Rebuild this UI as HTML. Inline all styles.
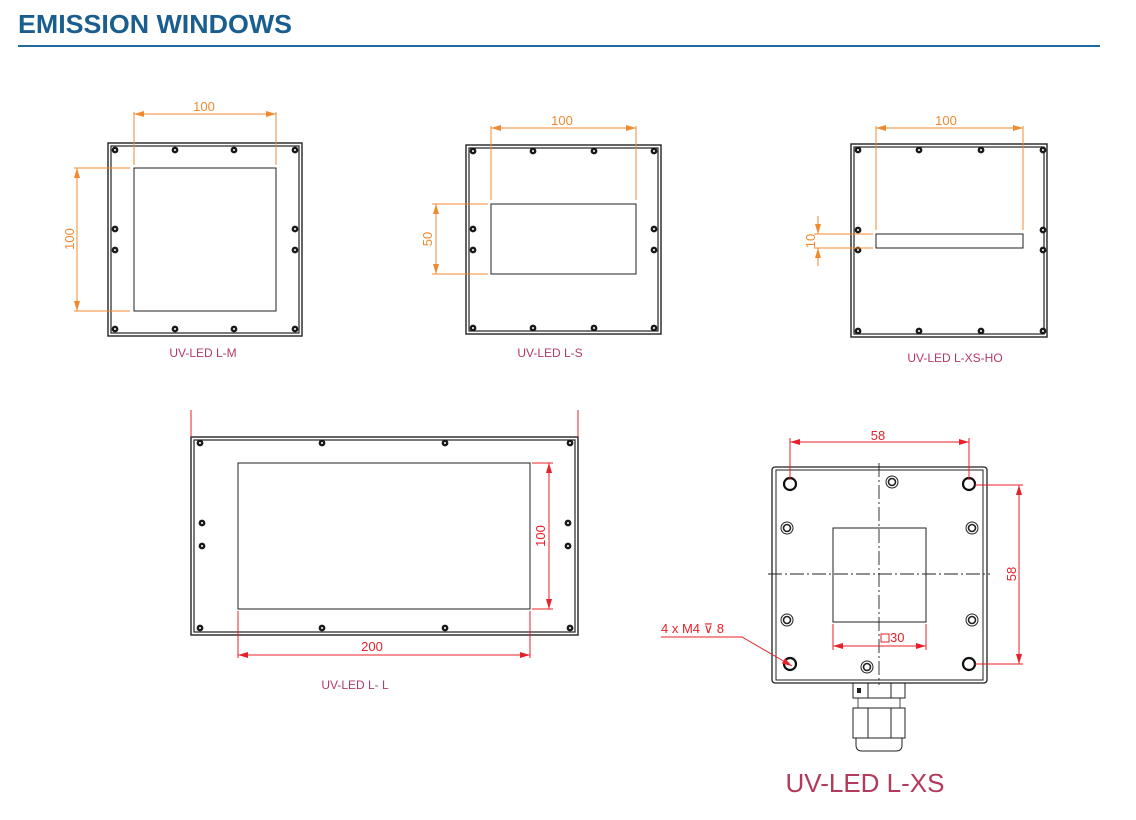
<!DOCTYPE html>
<html><head><meta charset="utf-8"><style>html,body{margin:0;padding:0;background:#fff}svg{display:block}</style></head><body>
<svg width="1136" height="820" viewBox="0 0 1136 820" xmlns="http://www.w3.org/2000/svg" font-family="Liberation Sans, sans-serif">
<defs>
<g id="s"><circle r="3.4" fill="#1a1a1a"/><circle r="1" fill="#fff"/></g>
<g id="h"><circle r="6" fill="none" stroke="#111" stroke-width="2.2"/></g>
<g id="t"><circle r="6" fill="none" stroke="#222" stroke-width="1"/><circle r="3.5" fill="none" stroke="#222" stroke-width="1.6"/></g>
<marker id="ao" viewBox="0 0 10 6" refX="10" refY="3" markerWidth="10" markerHeight="6" orient="auto-start-reverse" markerUnits="userSpaceOnUse"><path d="M0,0L10,3L0,6z" fill="#f08a30"/></marker>
<marker id="ar" viewBox="0 0 10 6" refX="10" refY="3" markerWidth="10" markerHeight="6" orient="auto-start-reverse" markerUnits="userSpaceOnUse"><path d="M0,0L10,3L0,6z" fill="#e8202a"/></marker>
</defs>
<text x="18" y="33" font-size="26" font-weight="bold" fill="#1a5d8f" textLength="274" lengthAdjust="spacingAndGlyphs">EMISSION WINDOWS</text>
<rect x="18" y="45" width="1082" height="2" fill="#1f6ba0"/>

<!-- L-M -->
<g fill="none" stroke="#222">
<rect x="108" y="143" width="194" height="193" stroke-width="1.4"/>
<rect x="111" y="146" width="188" height="187" stroke-width="1.2"/>
<rect x="134" y="168" width="142" height="143" stroke-width="1"/>
</g>
<use href="#s" x="115" y="150"/><use href="#s" x="175" y="150"/><use href="#s" x="234" y="150"/><use href="#s" x="295" y="150"/>
<use href="#s" x="115" y="229"/><use href="#s" x="115" y="250"/><use href="#s" x="295" y="229"/><use href="#s" x="295" y="250"/>
<use href="#s" x="115" y="329"/><use href="#s" x="175" y="329"/><use href="#s" x="234" y="329"/><use href="#s" x="295" y="329"/>
<g stroke="#f08a30" stroke-width="1" fill="none">
<line x1="134" y1="112" x2="134" y2="165"/><line x1="276" y1="112" x2="276" y2="165"/>
<line x1="134" y1="114" x2="276" y2="114" marker-start="url(#ao)" marker-end="url(#ao)"/>
<line x1="74" y1="168" x2="130" y2="168"/><line x1="74" y1="311" x2="130" y2="311"/>
<line x1="77" y1="168" x2="77" y2="311" marker-start="url(#ao)" marker-end="url(#ao)"/>
</g>
<text x="204" y="111" font-size="13" fill="#f08a30" text-anchor="middle">100</text>
<text transform="translate(74,239) rotate(-90)" font-size="13" fill="#f08a30" text-anchor="middle">100</text>
<text x="203" y="357" font-size="12" fill="#b23a6b" text-anchor="middle">UV-LED L-M</text>

<!-- L-S -->
<g fill="none" stroke="#222">
<rect x="466" y="145" width="195" height="189" stroke-width="1.4"/>
<rect x="469" y="148" width="189" height="183" stroke-width="1.2"/>
<rect x="491" y="204" width="145" height="70" stroke-width="1"/>
</g>
<use href="#s" x="473" y="151"/><use href="#s" x="533" y="151"/><use href="#s" x="594" y="151"/><use href="#s" x="654" y="151"/>
<use href="#s" x="473" y="229"/><use href="#s" x="473" y="250"/><use href="#s" x="654" y="229"/><use href="#s" x="654" y="250"/>
<use href="#s" x="473" y="328"/><use href="#s" x="533" y="328"/><use href="#s" x="594" y="328"/><use href="#s" x="654" y="328"/>
<g stroke="#f08a30" stroke-width="1" fill="none">
<line x1="491" y1="126" x2="491" y2="200"/><line x1="636" y1="126" x2="636" y2="200"/>
<line x1="491" y1="128" x2="636" y2="128" marker-start="url(#ao)" marker-end="url(#ao)"/>
<line x1="432" y1="204" x2="488" y2="204"/><line x1="432" y1="274" x2="488" y2="274"/>
<line x1="436" y1="204" x2="436" y2="274" marker-start="url(#ao)" marker-end="url(#ao)"/>
</g>
<text x="562" y="125" font-size="13" fill="#f08a30" text-anchor="middle">100</text>
<text transform="translate(432,239) rotate(-90)" font-size="13" fill="#f08a30" text-anchor="middle">50</text>
<text x="550" y="357" font-size="12" fill="#b23a6b" text-anchor="middle">UV-LED L-S</text>

<!-- L-XS-HO -->
<g fill="none" stroke="#222">
<rect x="851" y="144" width="196" height="193" stroke-width="1.4"/>
<rect x="854" y="147" width="190" height="187" stroke-width="1.2"/>
<rect x="876" y="234" width="147" height="14" stroke-width="1"/>
</g>
<use href="#s" x="858" y="150"/><use href="#s" x="919" y="150"/><use href="#s" x="981" y="150"/><use href="#s" x="1043" y="150"/>
<use href="#s" x="858" y="230"/><use href="#s" x="858" y="250"/><use href="#s" x="1043" y="230"/><use href="#s" x="1043" y="250"/>
<use href="#s" x="858" y="331"/><use href="#s" x="919" y="331"/><use href="#s" x="981" y="331"/><use href="#s" x="1043" y="331"/>
<g stroke="#f08a30" stroke-width="1" fill="none">
<line x1="876" y1="126" x2="876" y2="230"/><line x1="1023" y1="126" x2="1023" y2="230"/>
<line x1="876" y1="128" x2="1023" y2="128" marker-start="url(#ao)" marker-end="url(#ao)"/>
<line x1="814" y1="234" x2="873" y2="234"/><line x1="814" y1="248" x2="873" y2="248"/>
<line x1="818" y1="216" x2="818" y2="234" marker-end="url(#ao)"/>
<line x1="818" y1="266" x2="818" y2="248" marker-end="url(#ao)"/>
</g>
<text x="946" y="125" font-size="13" fill="#f08a30" text-anchor="middle">100</text>
<text transform="translate(815,241) rotate(-90)" font-size="13" fill="#f08a30" text-anchor="middle">10</text>
<text x="955" y="362" font-size="12" fill="#b23a6b" text-anchor="middle">UV-LED L-XS-HO</text>

<!-- L-L -->
<g fill="none" stroke="#222">
<rect x="191" y="437" width="387" height="198" stroke-width="1.4"/>
<rect x="194" y="440" width="381" height="192" stroke-width="1.2"/>
<rect x="238" y="463" width="292" height="146" stroke-width="1"/>
</g>
<use href="#s" x="200" y="443"/><use href="#s" x="322" y="443"/><use href="#s" x="445" y="443"/><use href="#s" x="570" y="443"/>
<use href="#s" x="202" y="523"/><use href="#s" x="202" y="546"/><use href="#s" x="568" y="523"/><use href="#s" x="568" y="546"/>
<use href="#s" x="200" y="628"/><use href="#s" x="322" y="628"/><use href="#s" x="445" y="628"/><use href="#s" x="570" y="628"/>
<g stroke="#e8202a" stroke-width="1" fill="none">
<line x1="191" y1="410" x2="191" y2="437"/><line x1="578" y1="410" x2="578" y2="437"/>
<line x1="532" y1="463" x2="553" y2="463"/><line x1="532" y1="609" x2="553" y2="609"/>
<line x1="549" y1="463" x2="549" y2="609" marker-start="url(#ar)" marker-end="url(#ar)"/>
<line x1="238" y1="611" x2="238" y2="658"/><line x1="530" y1="611" x2="530" y2="658"/>
<line x1="238" y1="655" x2="530" y2="655" marker-start="url(#ar)" marker-end="url(#ar)"/>
</g>
<text transform="translate(545,536) rotate(-90)" font-size="13" fill="#e8202a" text-anchor="middle">100</text>
<text x="372" y="651" font-size="13" fill="#e8202a" text-anchor="middle">200</text>
<text x="355" y="689" font-size="12" fill="#b23a6b" text-anchor="middle">UV-LED L- L</text>

<!-- L-XS -->
<g fill="none" stroke="#222">
<rect x="772" y="467" width="215" height="216" rx="3" stroke-width="1.3"/>
<rect x="776" y="470" width="207" height="210" stroke-width="1"/>
<rect x="833" y="528" width="93" height="94" stroke-width="1"/>
<line x1="879" y1="463" x2="879" y2="685" stroke-dasharray="14,3,2,3" stroke-width="0.9"/>
<line x1="768" y1="574" x2="990" y2="574" stroke-dasharray="14,3,2,3" stroke-width="0.9"/>
<rect x="853" y="683" width="52" height="15" stroke-width="1"/>
<line x1="868" y1="683" x2="868" y2="698"/><line x1="891" y1="683" x2="891" y2="698"/>
<rect x="858" y="698" width="42" height="10" stroke-width="0.8"/>
<rect x="853" y="708" width="52" height="30" stroke-width="1"/>
<line x1="868" y1="708" x2="868" y2="738"/><line x1="891" y1="708" x2="891" y2="738"/>
<path d="M856,738 L902,738 L902,745 Q902,751 896,751 L862,751 Q856,751 856,745 Z" stroke-width="1"/>
</g>
<rect x="857" y="688" width="4" height="5" fill="#222"/>
<use href="#h" x="790" y="484"/><use href="#h" x="969" y="484"/><use href="#h" x="790" y="664"/><use href="#h" x="969" y="664"/>
<use href="#t" x="892" y="482"/><use href="#t" x="787" y="528"/><use href="#t" x="972" y="528"/><use href="#t" x="787" y="620"/><use href="#t" x="972" y="620"/><use href="#t" x="867" y="667"/>
<g stroke="#e8202a" stroke-width="1" fill="none">
<line x1="790" y1="438" x2="790" y2="480"/><line x1="969" y1="438" x2="969" y2="480"/>
<line x1="790" y1="442" x2="969" y2="442" marker-start="url(#ar)" marker-end="url(#ar)"/>
<line x1="975" y1="485" x2="1023" y2="485"/><line x1="975" y1="664" x2="1023" y2="664"/>
<line x1="1019" y1="485" x2="1019" y2="664" marker-start="url(#ar)" marker-end="url(#ar)"/>
<line x1="833" y1="624" x2="833" y2="650"/><line x1="926" y1="624" x2="926" y2="650"/>
<line x1="833" y1="646" x2="926" y2="646" marker-start="url(#ar)" marker-end="url(#ar)"/>
<polyline points="661,637 742,637 792,666" marker-end="url(#ar)"/>
<rect x="881" y="634" width="8" height="8"/>
</g>
<text x="878" y="440" font-size="13" fill="#e8202a" text-anchor="middle">58</text>
<text transform="translate(1016,574) rotate(-90)" font-size="13" fill="#e8202a" text-anchor="middle">58</text>
<text x="890" y="642" font-size="13" fill="#e8202a">30</text>
<text x="661" y="633" font-size="13" fill="#e8202a">4 x M4 ⊽ 8</text>
<text x="865" y="792" font-size="26" fill="#b23a5a" text-anchor="middle">UV-LED L-XS</text>
</svg>
</body></html>
